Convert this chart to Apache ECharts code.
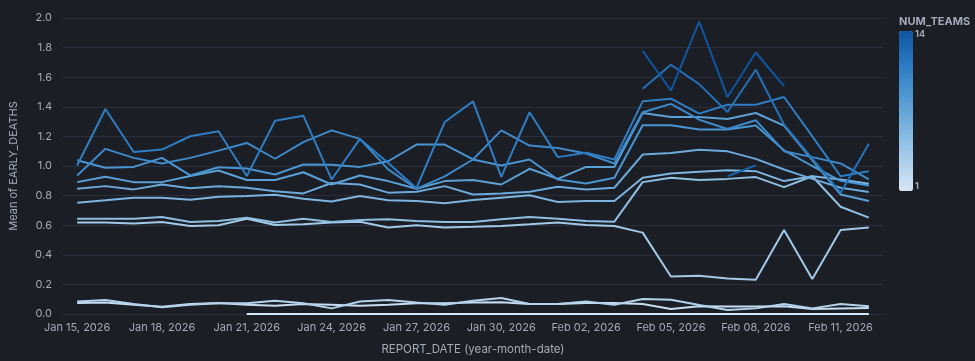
<!DOCTYPE html>
<html><head><meta charset="utf-8">
<script src="https://cdn.jsdelivr.net/npm/echarts@6/dist/echarts.min.js"></script>
<style>html,body{margin:0;padding:0;background:#1b1e25;}#c{width:975px;height:361px;}</style>
</head><body><div id="c"></div>
<script>
// Categories (REPORT_DATE)
const dates = ["Jan 15, 2026","Jan 16, 2026","Jan 17, 2026","Jan 18, 2026","Jan 19, 2026","Jan 20, 2026","Jan 21, 2026","Jan 22, 2026","Jan 23, 2026","Jan 24, 2026","Jan 25, 2026","Jan 26, 2026","Jan 27, 2026","Jan 28, 2026","Jan 29, 2026","Jan 30, 2026","Jan 31, 2026","Feb 01, 2026","Feb 02, 2026","Feb 03, 2026","Feb 04, 2026","Feb 05, 2026","Feb 06, 2026","Feb 07, 2026","Feb 08, 2026","Feb 09, 2026","Feb 10, 2026","Feb 11, 2026","Feb 12, 2026"];

// Mean of EARLY_DEATHS, one array per NUM_TEAMS value
const teams1  = [null,null,null,null,null,null,0,0,0,0,0,0,0,0,0,0,0,0,0,0,0,0,0,0,0,0,0,0,0];
const teams2  = [0.074,0.078,0.063,0.049,0.067,0.074,0.063,0.056,0.067,0.063,0.056,0.063,0.072,0.072,0.078,0.079,0.067,0.067,0.074,0.074,0.067,0.034,0.052,0.05,0.05,0.052,0.034,0.038,0.04];
const teams3  = [0.085,0.094,0.067,0.045,0.063,0.072,0.072,0.09,0.072,0.038,0.085,0.094,0.078,0.063,0.09,0.108,0.067,0.067,0.085,0.063,0.101,0.096,0.061,0.027,0.038,0.067,0.038,0.067,0.052];
const teams4  = [0.618,0.618,0.611,0.622,0.595,0.6,0.644,0.602,0.606,0.618,0.624,0.584,0.6,0.584,0.589,0.595,0.606,0.618,0.602,0.595,0.55,0.253,0.258,0.24,0.231,0.568,0.236,0.568,0.584];
const teams5  = [0.644,0.644,0.644,0.655,0.622,0.629,0.651,0.618,0.644,0.622,0.635,0.64,0.628,0.622,0.622,0.64,0.655,0.644,0.628,0.624,0.891,0.92,0.906,0.913,0.925,0.857,0.931,0.725,0.651];
const teams6  = [0.752,0.768,0.786,0.786,0.772,0.793,0.797,0.806,0.779,0.76,0.797,0.768,0.764,0.748,0.77,0.786,0.802,0.757,0.763,0.763,0.92,0.95,0.961,0.972,0.965,0.898,0.931,0.909,0.88];
const teams7  = [0.846,0.864,0.842,0.875,0.85,0.864,0.853,0.83,0.815,0.885,0.875,0.82,0.826,0.864,0.808,0.815,0.826,0.86,0.842,0.853,1.077,1.088,1.11,1.099,1.048,0.976,0.913,0.853,0.824];
const teams8  = [0.891,0.927,0.891,0.891,0.932,0.97,0.905,0.905,0.958,0.875,0.936,0.898,0.846,0.898,0.905,0.875,0.981,0.913,0.994,0.994,1.358,1.331,1.331,1.318,1.358,1.273,1.04,0.808,0.763];
const teams9  = [1.039,0.988,0.994,1.055,0.936,0.992,0.983,0.943,1.01,1.008,0.994,1.032,1.145,1.145,1.044,1.003,1.044,0.909,0.882,0.92,1.275,1.275,1.246,1.246,1.273,1.106,1.0,0.9,0.868];
const teams10 = [0.936,1.116,1.055,1.017,1.055,1.104,1.156,1.049,1.161,1.241,1.183,0.977,0.846,0.93,1.044,1.241,1.138,1.122,1.084,1.017,1.363,1.42,1.313,1.25,1.309,1.1,1.06,1.017,0.909];
const teams11 = [1.003,1.385,1.095,1.111,1.201,1.235,0.932,1.306,1.34,0.909,1.183,1.02,0.85,1.297,1.437,0.927,1.363,1.06,1.089,1.044,1.437,1.455,1.354,1.414,1.414,1.466,1.2,0.931,0.965];
const teams12 = [null,null,null,null,null,null,null,null,null,null,null,null,null,null,null,null,null,null,null,null,1.522,1.684,1.553,1.365,1.65,1.28,1.05,0.82,1.15];
const teams13 = [null,null,null,null,null,null,null,null,null,null,null,null,null,null,null,null,null,null,null,null,null,null,null,0.93,1.005,null,null,null,null];
const teams14 = [null,null,null,null,null,null,null,null,null,null,null,null,null,null,null,null,null,null,null,null,1.778,1.51,1.975,1.466,1.767,1.54,null,null,null];

const numTeams = [1,2,3,4,5,6,7,8,9,10,11,12,13,14];
const seriesValues = [teams1,teams2,teams3,teams4,teams5,teams6,teams7,teams8,teams9,teams10,teams11,teams12,teams13,teams14];

// Y ticks
const yMin = 0, yMax = 2, yStep = 0.2;
// Legend range
const legendMin = 1, legendMax = 14;
const rampColors = ['#d6e6f5','#a9cdea','#7ab3df','#4d97d2','#2a78c0','#0f55a0'];

function hex2rgb(h){return [parseInt(h.slice(1,3),16),parseInt(h.slice(3,5),16),parseInt(h.slice(5,7),16)];}
function colorFor(v){
  const t = (v - legendMin)/(legendMax - legendMin);
  const n = rampColors.length - 1;
  const p = Math.min(n - 1e-9, Math.max(0, t*n));
  const i = Math.floor(p), f = p - i;
  const a = hex2rgb(rampColors[i]), b = hex2rgb(rampColors[i+1]);
  return 'rgb(' + a.map((x,k)=>Math.round(x + (b[k]-x)*f)).join(',') + ')';
}

const labelColor = '#a3abb9';
const font = 'Inter, "Noto Sans", sans-serif';

const chart = echarts.init(document.getElementById('c'), null, {renderer:'canvas'});
chart.setOption({
  backgroundColor: '#1b1e25',
  animation: false,
  grid: {left: 62, right: 92, top: 18, bottom: 46, containLabel: false},
  xAxis: {
    type: 'category', data: dates, boundaryGap: true,
    name: 'REPORT_DATE (year-month-date)', nameLocation: 'middle', nameGap: 30,
    nameTextStyle: {color: labelColor, fontSize: 11.5, fontFamily: font},
    axisLine: {show: false}, axisTick: {show: false},
    axisLabel: {interval: 2, color: labelColor, fontSize: 11, fontFamily: font, margin: 8},
    splitLine: {show: false}
  },
  yAxis: {
    type: 'value', min: yMin, max: yMax, interval: yStep,
    name: 'Mean of EARLY_DEATHS', nameLocation: 'middle', nameGap: 44,
    nameTextStyle: {color: labelColor, fontSize: 11, fontFamily: font},
    axisLine: {show: false}, axisTick: {show: false},
    axisLabel: {color: labelColor, fontSize: 11, fontFamily: font, margin: 11, formatter: v => v.toFixed(1)},
    splitLine: {lineStyle: {color: '#2a2f3b', width: 1}}
  },
  visualMap: {
    type: 'continuous', min: legendMin, max: legendMax, orient: 'vertical',
    left: 899, top: 31, itemWidth: 14, itemHeight: 160, padding: 0,
    calculable: false, text: null, showLabel: false, seriesIndex: [],
    inRange: {color: rampColors}
  },
  graphic: [
    {type: 'text', left: 899, top: 16, style: {text: 'NUM_TEAMS', fill: labelColor, font: 'bold 11px ' + font}},
    {type: 'text', left: 915, top: 30, style: {text: String(legendMax), fill: labelColor, font: 'bold 9px ' + font}},
    {type: 'text', left: 915, top: 182, style: {text: String(legendMin), fill: labelColor, font: 'bold 9px ' + font}}
  ],
  series: seriesValues.map((vals, i) => ({
    name: String(numTeams[i]), type: 'line', data: vals,
    showSymbol: false, symbol: 'none', connectNulls: false,
    lineStyle: {width: 2, color: colorFor(numTeams[i])},
    itemStyle: {color: colorFor(numTeams[i])},
    z: 2 + i
  }))
});
</script></body></html>
